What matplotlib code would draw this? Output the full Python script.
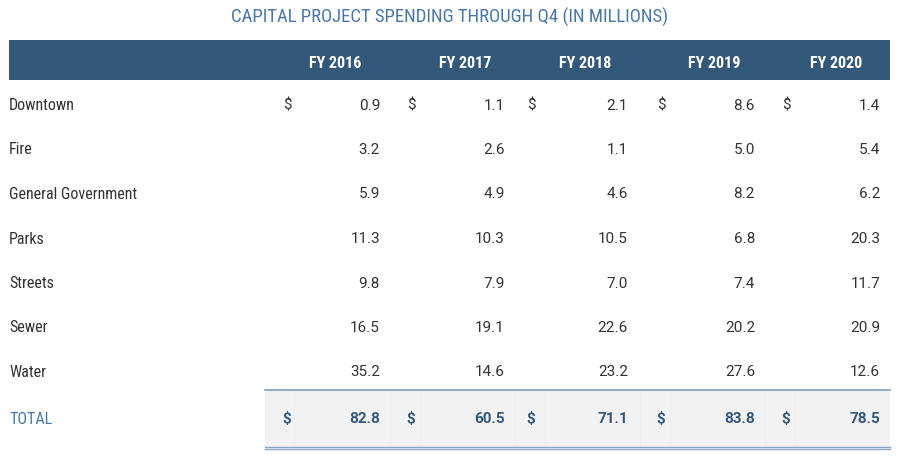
import matplotlib
matplotlib.use("Agg")
import matplotlib.pyplot as plt

# table data
categories = ["Downtown", "Fire", "General Government", "Parks", "Streets", "Sewer", "Water"]
years = ["FY 2016", "FY 2017", "FY 2018", "FY 2019", "FY 2020"]
fy2016 = [0.9, 3.2, 5.9, 11.3, 9.8, 16.5, 35.2]
fy2017 = [1.1, 2.6, 4.9, 10.3, 7.9, 19.1, 14.6]
fy2018 = [2.1, 1.1, 4.6, 10.5, 7.0, 22.6, 23.2]
fy2019 = [8.6, 5.0, 8.2, 6.8, 7.4, 20.2, 27.6]
fy2020 = [1.4, 5.4, 6.2, 20.3, 11.7, 20.9, 12.6]
totals = [82.8, 60.5, 71.1, 83.8, 78.5]

cond = ["Roboto Condensed", "DejaVu Sans"]
num_font = ["Roboto", "DejaVu Sans"]

dark = "#34587a"
title_blue = "#4a77a8"
text_col = "#333333"

fig = plt.figure(figsize=(9, 4.59), dpi=100)
ax = fig.add_axes([0, 0, 1, 1])
ax.set_xlim(0, 900)
ax.set_ylim(459, 0)
ax.axis("off")

ax.text(450, 17, "CAPITAL PROJECT SPENDING THROUGH Q4 (IN MILLIONS)", ha="center", va="center",
        fontsize=13.5, color=title_blue, family=cond)

# header band
ax.add_patch(plt.Rectangle((9, 40), 881, 40, color=dark, lw=0))
hdr_x = [361, 491, 611, 741, 862]
for x, y in zip(hdr_x, years):
    ax.text(x, 64, y, ha="right", va="center", fontsize=11.5, color="white",
            family=cond, fontweight="bold")

cols = [fy2016, fy2017, fy2018, fy2019, fy2020]
dollar_x = [287, 411, 531, 661, 786]
val_x = [380, 505, 628, 755, 880]
row_y0, row_dy = 105.5, 44.5
for i, cat in enumerate(categories):
    y = row_y0 + i * row_dy
    ax.text(9, y, cat, ha="left", va="center", fontsize=11.5, color=text_col, family=cond)
    for j, col in enumerate(cols):
        if i == 0:
            ax.text(dollar_x[j], y, "$", ha="center", va="center", fontsize=11,
                    color=text_col, family=num_font)
        ax.text(val_x[j], y, f"{col[i]:.1f}", ha="right", va="center", fontsize=11,
                color=text_col, family=num_font)

# total band
ax.add_patch(plt.Rectangle((265, 389), 625, 58, color="#f2f2f2", lw=0))
for x in [294, 390, 420, 515, 545, 640, 670, 765, 795]:
    ax.plot([x, x], [390, 446], color="#ececec", lw=0.5)
ax.plot([265, 890], [389.5, 389.5], color="#8aa6c4", lw=1.3)
ax.plot([265, 890], [446.5, 446.5], color="#8aa6c4", lw=1.0)
ax.plot([265, 890], [449, 449], color="#8aa6c4", lw=1.0)

ty = 419
ax.text(9, ty, "TOTAL", ha="left", va="center", fontsize=11.5, color=title_blue, family=cond)
for j, t in enumerate(totals):
    ax.text(dollar_x[j], ty, "$", ha="center", va="center", fontsize=11,
            color=dark, family=num_font, fontweight="bold")
    ax.text(val_x[j], ty, f"{t:.1f}", ha="right", va="center", fontsize=11,
            color=dark, family=num_font, fontweight="bold")

fig.savefig("out.png", dpi=100)
